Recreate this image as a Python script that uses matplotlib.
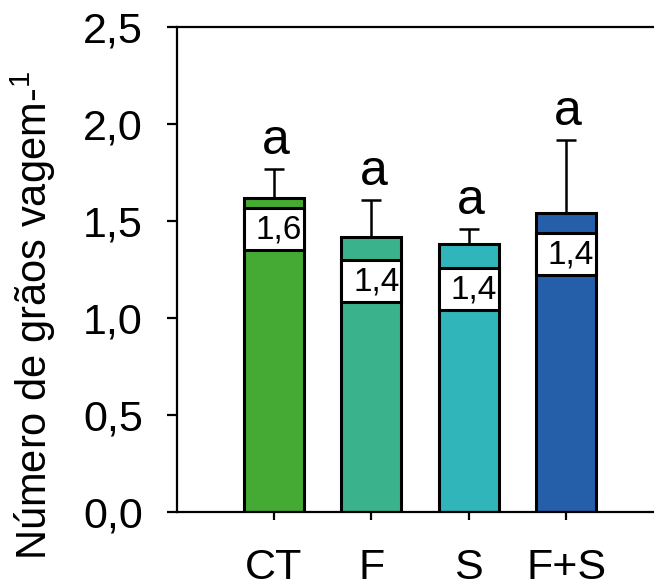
import matplotlib

matplotlib.use("Agg")
import matplotlib.pyplot as plt

plt.rcParams["font.family"] = ["Liberation Sans", "DejaVu Sans"]
plt.rcParams["mathtext.fontset"] = "custom"
plt.rcParams["mathtext.rm"] = "Liberation Sans"
plt.rcParams["mathtext.it"] = "Liberation Sans"

groups = ["CT", "F", "S", "F+S"]
means = [1.62, 1.42, 1.38, 1.54]
err_up = [0.15, 0.19, 0.08, 0.38]
letters = ["a", "a", "a", "a"]
value_labels = ["1,6", "1,4", "1,4", "1,4"]
box_centers = [1.46, 1.19, 1.15, 1.33]
colors = ["#44aa33", "#3ab38d", "#30b5ba", "#255fa9"]
yticks = [0.0, 0.5, 1.0, 1.5, 2.0, 2.5]

BOX_H = 0.215
WIDTH = 0.615

fig = plt.figure(figsize=(6.54, 5.88), dpi=100)
ax = fig.add_axes([0.2706, 0.1293, 0.7294, 0.8248])

x = list(range(len(groups)))
ax.bar(x, means, width=WIDTH, color=colors, edgecolor="black", linewidth=2.2, zorder=2)
ax.errorbar(x, means, yerr=[[0] * len(x), err_up], fmt="none", ecolor="black",
            elinewidth=1.8, capsize=7.5, capthick=1.8, zorder=1)

# white label boxes sitting inside the bars
box_bottoms = [c - BOX_H / 2 for c in box_centers]
ax.bar(x, [BOX_H] * len(x), bottom=box_bottoms, width=WIDTH, color="white",
       edgecolor="black", linewidth=2.2, zorder=3)
for xi, c, lab in zip(x, box_centers, value_labels):
    ax.text(xi + 0.05, c - 0.005, lab, ha="center", va="center", fontsize=24, zorder=4)

for xi, m, e, let in zip(x, means, err_up, letters):
    ax.text(xi + 0.02, m + e + 0.075, let, ha="center", va="baseline", fontsize=36)

ax.set_xlim(-0.995, 3.9)
ax.set_ylim(0, 2.5)
ax.set_xticks(x)
ax.set_xticklabels(groups)
ax.set_yticks(yticks)
ax.set_yticklabels([f"{v:.1f}".replace(".", ",") for v in yticks])

for side in ["left", "bottom", "top"]:
    ax.spines[side].set_linewidth(1.6)
ax.spines["right"].set_visible(False)

ax.tick_params(axis="y", direction="out", length=7.5, width=1.6, labelsize=31, pad=17)
ax.tick_params(axis="x", direction="out", length=6, width=1.6, labelsize=31, pad=20)

ax.set_ylabel("Número de grãos vagem-$^{1}$", fontsize=30)
ax.yaxis.set_label_coords(-0.25, 0.405)

fig.savefig("out.png", dpi=100)
